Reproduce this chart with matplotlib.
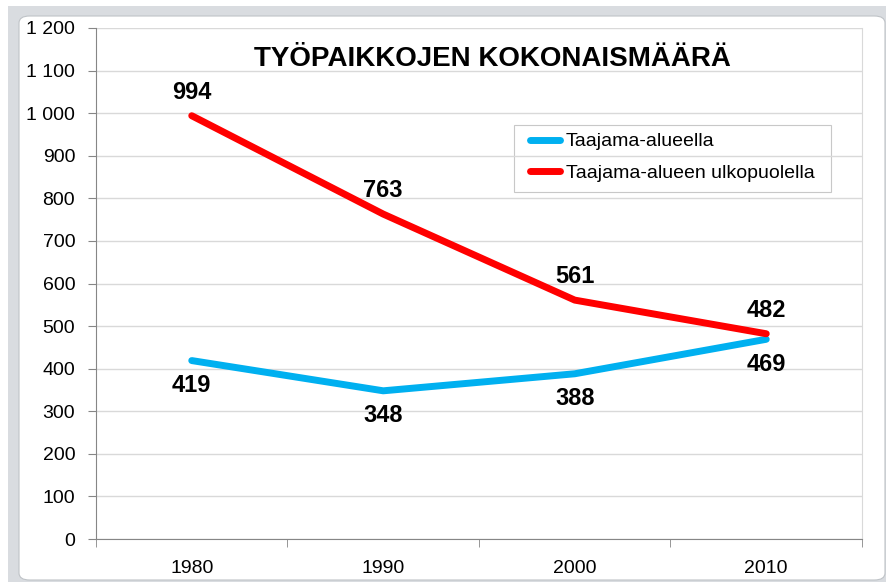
import matplotlib
matplotlib.use("Agg")
import matplotlib.pyplot as plt
from matplotlib.patches import FancyBboxPatch, Rectangle

plt.rcParams['font.family'] = ['Liberation Sans', 'DejaVu Sans']

years = ["1980", "1990", "2000", "2010"]
taajama = [419, 348, 388, 469]
ulkopuoli = [994, 763, 561, 482]
yticks = list(range(0, 1201, 100))
ytick_labels = ["0", "100", "200", "300", "400", "500", "600", "700", "800",
                "900", "1 000", "1 100", "1 200"]

blue = "#00b0f0"
red = "#ff0000"

W, H = 887, 582
fig = plt.figure(figsize=(W / 100, H / 100), dpi=100, facecolor="white")

# grey window frame and the white rounded chart area
fig.patches.append(Rectangle((8 / W, 0), 1, 1 - 6 / H, transform=fig.transFigure,
                             facecolor="#d9dce0", edgecolor="none", zorder=-2))
fig.patches.append(FancyBboxPatch((19 / W, 2 / H), (885 - 19) / W, (582 - 2 - 16) / H,
                                  boxstyle="round,pad=0,rounding_size=0.012",
                                  transform=fig.transFigure, facecolor="white",
                                  edgecolor="#bfc3c7", linewidth=0.8, zorder=-1))

ax = fig.add_axes([96 / W, 43 / H, 766 / W, 511 / H])
ax.set_facecolor("none")
x = range(len(years))

ax.plot(x, taajama, color=blue, lw=5, solid_capstyle="round", label="Taajama-alueella", zorder=3)
ax.plot(x, ulkopuoli, color=red, lw=5, solid_capstyle="round",
        label="Taajama-alueen ulkopuolella", zorder=3)

for i, v in enumerate(taajama):
    ax.annotate(str(v), (i, v), xytext=(0, -18), textcoords="offset points",
                ha="center", va="center", fontsize=17, fontweight="bold")
for i, v in enumerate(ulkopuoli):
    ax.annotate(str(v), (i, v), xytext=(0, 17), textcoords="offset points",
                ha="center", va="center", fontsize=17, fontweight="bold")

ax.set_xlim(-0.5, 3.5)
ax.set_ylim(0, 1200)
ax.set_yticks(yticks)
ax.set_yticklabels(ytick_labels)
ax.set_xticks(list(x))
ax.set_xticklabels(years)
ax.set_xticks([-0.5, 0.5, 1.5, 2.5, 3.5], minor=True)
ax.tick_params(axis="x", which="major", length=0, pad=15, labelsize=14)
ax.tick_params(axis="x", which="minor", length=6, color="#868686", direction="out")
ax.tick_params(axis="y", length=6, color="#868686", pad=9, labelsize=14)

ax.grid(axis="y", color="#d9d9d9", lw=1)
ax.set_axisbelow(True)
for s in ["left", "bottom"]:
    ax.spines[s].set_color("#868686")
ax.spines["right"].set_color("#d9d9d9")
ax.spines["top"].set_visible(False)

ax.text(0.518, 0.94, "TYÖPAIKKOJEN KOKONAISMÄÄRÄ", transform=ax.transAxes,
        ha="center", va="center", fontsize=20, fontweight="bold")

leg = ax.legend(loc="upper left", bbox_to_anchor=((520 - 96) / 766, (539 - 123) / 511),
                fontsize=14, frameon=False,
                handlelength=1.55, handletextpad=0.3, borderpad=0.0, labelspacing=0.7)

# legend frame, wider than matplotlib's symmetric padding
fig.canvas.draw()
bb = leg.get_window_extent()
fig.patches.append(Rectangle((bb.x0 - 16, bb.y0 - 10), bb.width + 33, bb.height + 18,
                             transform=None, facecolor="white", edgecolor="#c8c8c8",
                             linewidth=0.8, zorder=-0.5))

fig.savefig("out.png", dpi=100)
